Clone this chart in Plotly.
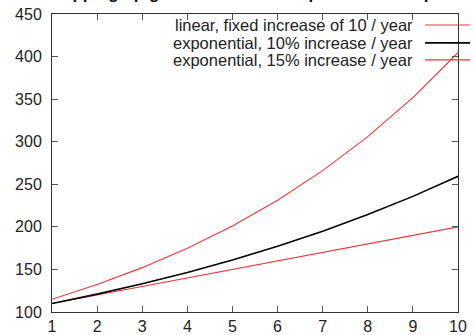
import plotly.graph_objects as go

years = [1, 2, 3, 4, 5, 6, 7, 8, 9, 10]
linear_vals = [110, 120, 130, 140, 150, 160, 170, 180, 190, 200]
exp10_vals = [110.0, 121.0, 133.1, 146.4, 161.1, 177.2, 194.9, 214.4, 235.8, 259.4]
exp15_vals = [115.0, 132.3, 152.1, 174.9, 201.1, 231.3, 266.0, 305.9, 351.8, 404.6]
series_names = ["linear, fixed increase of 10 / year",
                "exponential, 10% increase / year",
                "exponential, 15% increase / year"]
series_colors = ["#e8383d", "#000000", "#e8383d"]
series_widths = [1.1, 1.6, 1.1]
x_ticks = [1, 2, 3, 4, 5, 6, 7, 8, 9, 10]
y_ticks = [100, 150, 200, 250, 300, 350, 400, 450]
title_text = "Stepping up growth: linear vs exponential compared"

FONT = "Liberation Sans, Arial, sans-serif"

fig = go.Figure()
for name, vals, col, w in zip(series_names, [linear_vals, exp10_vals, exp15_vals],
                              series_colors, series_widths):
    fig.add_trace(go.Scatter(x=years, y=vals, mode="lines", name=name,
                             line=dict(color=col, width=w), showlegend=False))

# gnuplot-style key: right-aligned text with sample line to its right
key_y = [0.963, 0.903, 0.846]
for name, col, w, ky in zip(series_names, series_colors, series_widths, key_y):
    fig.add_annotation(xref="paper", yref="paper", x=0.894, y=ky, text=name,
                       showarrow=False, xanchor="right", yanchor="middle",
                       font=dict(family=FONT, size=16.5, color="#222222"))
    fig.add_shape(type="line", xref="paper", yref="paper", x0=0.919, x1=1.03,
                  y0=ky, y1=ky, line=dict(color=col, width=w))

fig.add_annotation(xref="paper", yref="paper", x=-0.02, y=1.0, xanchor="left",
                   yanchor="bottom", yshift=9, text="<b>" + title_text + "</b>",
                   showarrow=False, font=dict(family=FONT, size=17, color="#111111"))

axis_common = dict(showline=True, linecolor="#333333", linewidth=1, mirror="ticks",
                   ticks="inside", ticklen=6, tickcolor="#555555", tickwidth=1,
                   showgrid=False, zeroline=False, automargin=False,
                   tickfont=dict(family=FONT, size=16, color="#222222"))

fig.update_layout(
    width=475, height=335,
    margin=dict(l=52, r=17, t=14, b=23),
    paper_bgcolor="white", plot_bgcolor="white",
    xaxis=dict(range=[1, 10], tickvals=x_ticks, **axis_common),
    yaxis=dict(range=[100, 450], tickvals=y_ticks, ticklabelstandoff=6, **axis_common),
    showlegend=False,
)

fig.write_html("out.html", config={"displayModeBar": False},
               post_script="document.body.style.margin='0';document.body.style.overflow='hidden';")
